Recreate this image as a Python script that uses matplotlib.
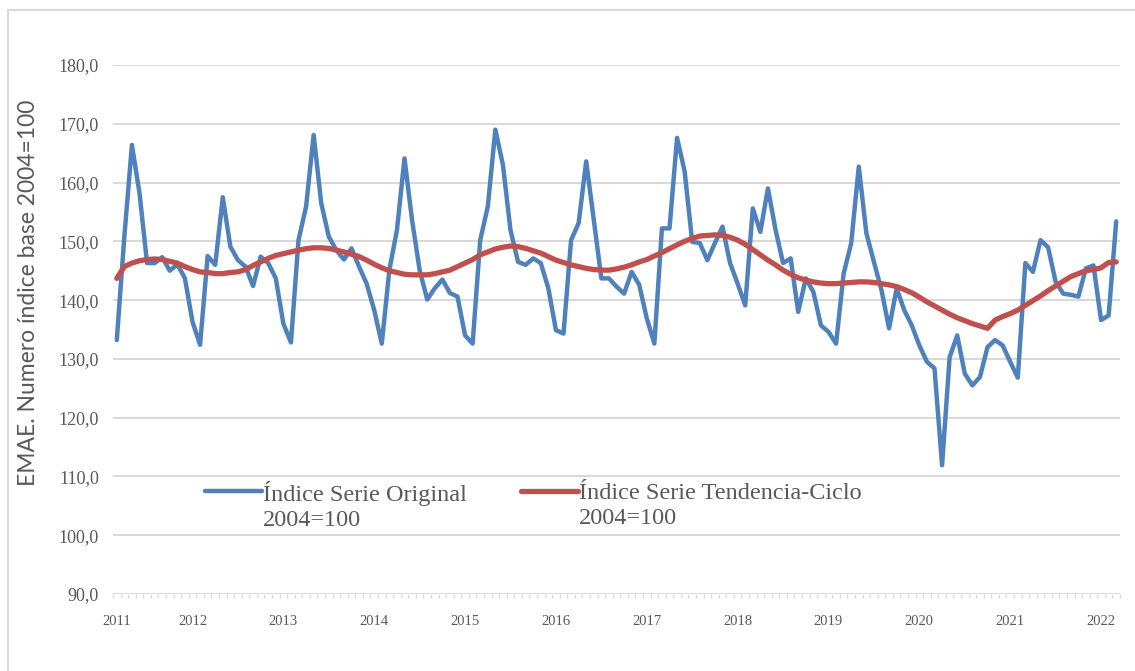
import numpy as np
import pandas as pd
import matplotlib
matplotlib.use("Agg")
import matplotlib.pyplot as plt
from matplotlib.legend_handler import HandlerLine2D
from matplotlib.patches import Rectangle

# meses: marzo 2011 a marzo 2022
meses = pd.date_range("2011-03-01", "2022-03-01", freq="MS")

# Índice Serie Original 2004=100
serie_original = [
    133.2, 150.8, 166.4, 158.2, 146.3, 146.3, 147.3, 145.0, 146.1, 143.7,              # 2011
    136.3, 132.4, 147.5, 146.0, 157.5, 149.1, 146.8, 145.7, 142.4, 147.4, 146.3, 143.7,  # 2012
    136.0, 132.8, 150.2, 155.9, 168.1, 156.5, 150.8, 148.5, 146.9, 148.8, 145.7, 142.8,  # 2013
    138.3, 132.6, 145.1, 151.9, 164.1, 153.6, 145.1, 140.1, 142.0, 143.5, 141.2, 140.6,  # 2014
    134.0, 132.6, 150.2, 155.9, 169.0, 163.0, 151.9, 146.5, 146.0, 147.1, 146.3, 142.0,  # 2015
    134.9, 134.3, 150.2, 153.1, 163.6, 153.6, 143.7, 143.7, 142.3, 141.1, 144.8, 142.6,  # 2016
    136.9, 132.6, 152.2, 152.2, 167.6, 161.9, 149.9, 149.7, 146.8, 149.7, 152.5, 146.3,  # 2017
    142.8, 139.1, 155.6, 151.6, 159.0, 152.0, 146.3, 147.1, 138.0, 143.7, 141.4, 135.7,  # 2018
    134.6, 132.6, 144.5, 149.7, 162.7, 151.4, 146.5, 141.7, 135.2, 142.0, 138.3, 135.7,  # 2019
    132.3, 129.5, 128.4, 111.9, 130.3, 134.0, 127.5, 125.5, 126.9, 132.0, 133.2, 132.3,  # 2020
    129.5, 126.8, 146.3, 144.8, 150.2, 149.0, 143.1, 141.1, 140.9, 140.6, 145.4, 145.9,  # 2021
    136.6, 137.4, 153.4,                                                                 # 2022
]

# Índice Serie Tendencia-Ciclo 2004=100
serie_tendencia = [
    143.7, 145.7, 146.3, 146.7, 146.9, 147.0, 146.9, 146.6, 146.3, 145.7,
    145.2, 144.8, 144.7, 144.5, 144.5, 144.7, 144.8, 145.2, 145.9, 146.5, 147.1, 147.6,
    147.9, 148.2, 148.5, 148.75, 148.9, 148.9, 148.8, 148.5, 148.2, 147.8, 147.4, 146.8,
    146.1, 145.5, 145.0, 144.7, 144.4, 144.3, 144.3, 144.3, 144.5, 144.8, 145.1, 145.7,
    146.3, 146.9, 147.7, 148.2, 148.7, 149.0, 149.2, 149.1, 148.8, 148.4, 148.0, 147.4,
    146.8, 146.4, 146.0, 145.7, 145.4, 145.2, 145.1, 145.1, 145.3, 145.6, 146.0, 146.5,
    146.9, 147.5, 148.1, 148.75, 149.4, 150.0, 150.5, 150.9, 151.0, 151.1, 151.0, 150.7,
    150.2, 149.5, 148.6, 147.7, 146.8, 146.0, 145.1, 144.4, 143.8, 143.4, 143.1, 142.9,
    142.8, 142.8, 142.9, 143.0, 143.1, 143.1, 143.0, 142.8, 142.6, 142.3, 141.8, 141.25,
    140.5, 139.7, 139.0, 138.3, 137.6, 137.0, 136.5, 136.0, 135.6, 135.2, 136.6, 137.2,
    137.7, 138.3, 139.1, 139.9, 140.7, 141.6, 142.4, 143.2, 144.0, 144.5, 145.0, 145.2,
    145.5, 146.4, 146.5,
]

etiquetas = ["Índice Serie Original\n2004=100", "Índice Serie Tendencia-Ciclo\n2004=100"]
yticks = [90, 100, 110, 120, 130, 140, 150, 160, 170, 180]

AZUL = "#4f81bd"
ROJO = "#c0504d"
GRIS_TXT = "#595959"
GRIS_LIN = "#d9d9d9"


class HandleArriba(HandlerLine2D):
    # pone la linea de la leyenda a la altura de la primera linea del texto
    def create_artists(self, legend, orig_handle, xdescent, ydescent,
                       width, height, fontsize, trans):
        arts = super().create_artists(legend, orig_handle, xdescent, ydescent,
                                      width, height, fontsize, trans)
        for a in arts:
            a.set_ydata(np.asarray(a.get_ydata()) + 0.6 * fontsize)
        return arts


fig = plt.figure(figsize=(11.35, 6.71), dpi=100)
ax = fig.add_axes([113 / 1135, 1 - 594 / 671, 1007 / 1135, 529 / 671])

x = np.arange(len(meses))
l1, = ax.plot(x, serie_original, color=AZUL, lw=3.2, solid_joinstyle="round",
              solid_capstyle="round", zorder=3)
l2, = ax.plot(x, serie_tendencia, color=ROJO, lw=3.8, solid_joinstyle="round",
              solid_capstyle="round", zorder=4)

ax.set_xlim(-0.5, len(meses) - 0.5)
ax.set_ylim(90, 180)
ax.set_yticks(yticks)
ax.yaxis.set_major_formatter(plt.FuncFormatter(lambda v, p: f"{v:.1f}".replace(".", ",")))
ax.grid(axis="y", color=GRIS_LIN, lw=1.5, zorder=0)
ax.set_axisbelow(True)
for s in ax.spines.values():
    s.set_visible(False)

# etiquetas de año: primer mes y cada enero
pos_anio = [0] + [i for i, m in enumerate(meses) if m.month == 1]
lab_anio = [str(meses[i].year) for i in pos_anio]
ax.set_xticks(pos_anio)
ax.set_xticklabels(lab_anio, family="Liberation Serif", fontsize=10.5, color=GRIS_TXT)
ax.set_xticks(np.arange(len(meses) + 1) - 0.5, minor=True)
ax.tick_params(axis="x", which="major", length=0, pad=15)
ax.tick_params(axis="x", which="minor", length=3, width=1, color=GRIS_LIN)
ax.tick_params(axis="y", length=0, pad=10, labelcolor=GRIS_TXT, labelsize=13)
for t in ax.get_yticklabels():
    t.set_family("Liberation Serif")

ax.set_ylabel("EMAE. Numero índice base 2004=100", family="Lato", fontsize=16.5,
              color=GRIS_TXT, va="center")
ax.yaxis.set_label_coords(-0.084, 0.57)

leg = ax.legend([l1, l2], etiquetas, loc="upper left", bbox_to_anchor=(0.0914, 0.213),
                ncol=2, frameon=False, handlelength=2.35, handletextpad=0.05,
                columnspacing=2.2, borderaxespad=0, borderpad=0,
                handler_map={matplotlib.lines.Line2D: HandleArriba()},
                prop={"family": "Liberation Serif", "size": 17.5})
for t in leg.get_texts():
    t.set_color(GRIS_TXT)

# borde del area del grafico (solo se ve arriba e izquierda)
fig.patches.append(Rectangle((8 / 1135, -0.2), 1.2, 1.2 - 10 / 671, transform=fig.transFigure,
                             fill=False, edgecolor=GRIS_LIN, lw=1.5))

fig.savefig("out.png", dpi=100, facecolor="white")
